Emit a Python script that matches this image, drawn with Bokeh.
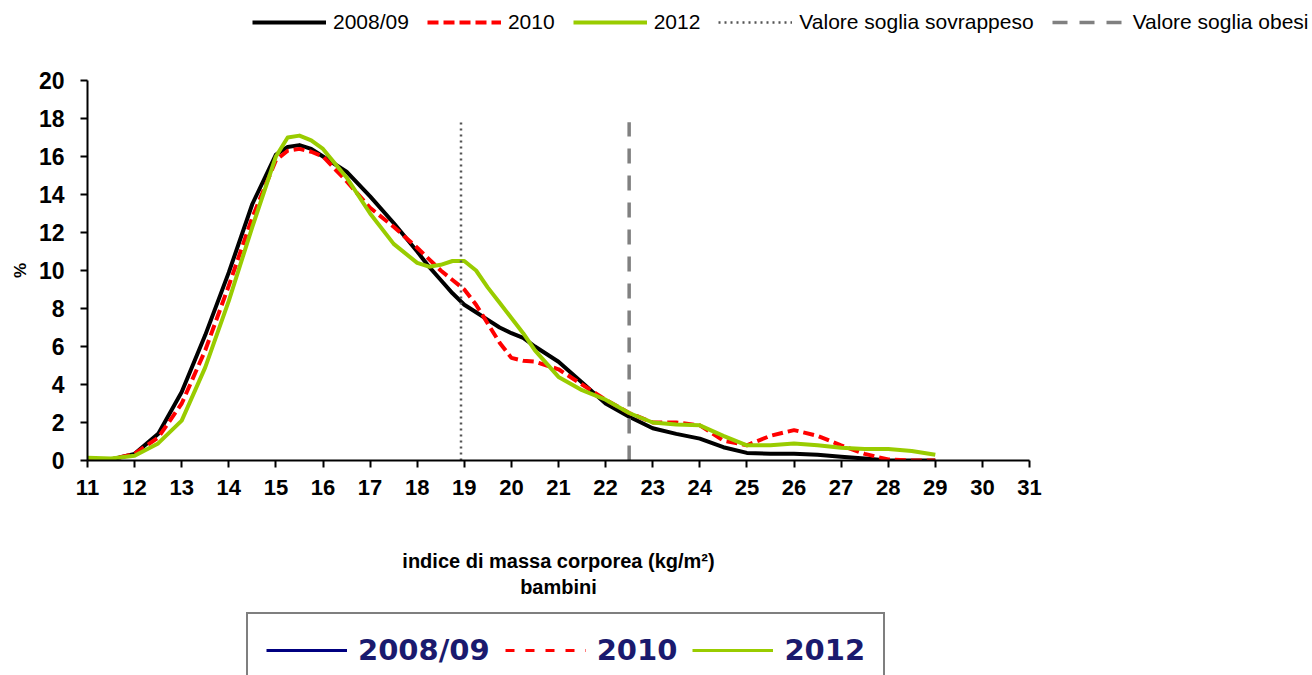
from bokeh.plotting import figure
from bokeh.layouts import column
from bokeh.models import Range1d, Legend, LegendItem, ColumnDataSource, FixedTicker
from bokeh.embed import file_html
from bokeh.resources import INLINE

# ---------------- data ----------------
bmi = [11, 11.5, 12, 12.5, 13, 13.5, 14, 14.5, 15, 15.25, 15.5, 15.75, 16, 16.5, 17, 17.5,
       18, 18.25, 18.5, 18.75, 19, 19.25, 19.5, 19.75, 20, 20.25, 20.5, 21, 21.5, 22, 22.5,
       23, 23.5, 24, 24.5, 25, 25.5, 26, 26.5, 27, 27.5, 28, 28.5, 29]
y2008 = [0.05, 0.05, 0.35, 1.4, 3.6, 6.6, 9.9, 13.5, 16.1, 16.5, 16.6, 16.4, 16.0, 15.2, 13.9, 12.5,
         11.0, 10.2, 9.5, 8.8, 8.2, 7.8, 7.4, 7.0, 6.7, 6.45, 6.0, 5.2, 4.1, 3.0, 2.3,
         1.7, 1.4, 1.15, 0.7, 0.4, 0.35, 0.35, 0.3, 0.2, 0.1, 0.0, 0.0, 0.0]
y2010 = [0.0, 0.05, 0.35, 1.2, 3.0, 5.8, 9.2, 12.8, 15.8, 16.3, 16.4, 16.25, 16.0, 14.7, 13.3, 12.3,
         11.2, 10.6, 10.0, 9.5, 9.0, 8.2, 7.2, 6.2, 5.4, 5.25, 5.2, 4.8, 4.0, 3.2, 2.5,
         2.0, 2.0, 1.85, 1.05, 0.8, 1.3, 1.6, 1.3, 0.8, 0.35, 0.05, 0.0, 0.0]
y2012 = [0.15, 0.1, 0.25, 0.9, 2.1, 4.9, 8.4, 12.3, 16.0, 17.0, 17.1, 16.85, 16.4, 14.9, 13.0, 11.4,
         10.4, 10.2, 10.3, 10.5, 10.5, 10.0, 9.1, 8.3, 7.5, 6.7, 5.8, 4.4, 3.7, 3.2, 2.5,
         2.0, 1.9, 1.85, 1.3, 0.8, 0.8, 0.9, 0.8, 0.67, 0.6, 0.6, 0.5, 0.3]
series_labels = ["2008/09", "2010", "2012"]
thr_labels = ["Valore soglia sovrappeso", "Valore soglia obesi"]
thr_x = [18.93, 22.5]
thr_bottom = [0, 0]
thr_top = [17.8, 17.8]
x_ticks = list(range(11, 32))
y_ticks = list(range(0, 21, 2))
x_title = "indice di massa corporea (kg/m²)\nbambini"
y_title = "%"

W = 1312
NAN = float("nan")


def blank_fig(h):
    f = figure(width=W, height=h, min_border=0, x_range=Range1d(0, 1), y_range=Range1d(0, 1),
               x_axis_location=None, y_axis_location=None,
               output_backend="svg", toolbar_location=None)
    f.outline_line_color = None
    f.xgrid.visible = False
    f.ygrid.visible = False
    try:
        f.frame_align = False
    except Exception:
        pass
    return f


# ---------------- top legend strip ----------------
top = blank_fig(40)
e1 = ColumnDataSource(dict(x=[NAN], y=[NAN]))
l08 = top.line("x", "y", source=e1, line_color="black", line_width=4)
l10 = top.line("x", "y", source=e1, line_color="#ff0000", line_width=4, line_dash="11 5")
l12 = top.line("x", "y", source=e1, line_color="#99cc00", line_width=4)
ldot = top.line("x", "y", source=e1, line_color="#555555", line_width=2.5, line_dash="2 4")
ldash = top.line("x", "y", source=e1, line_color="#808080", line_width=3.5, line_dash="15 12")
leg1 = Legend(items=[
    LegendItem(label=series_labels[0], renderers=[l08]),
    LegendItem(label=series_labels[1], renderers=[l10]),
    LegendItem(label=series_labels[2], renderers=[l12]),
    LegendItem(label=thr_labels[0], renderers=[ldot]),
    LegendItem(label=thr_labels[1], renderers=[ldash]),
], orientation="horizontal", location=(252, 6),
    glyph_width=74, glyph_height=20, label_standoff=7, spacing=18,
    padding=0, margin=0, border_line_color=None, background_fill_alpha=0,
    label_text_font="Liberation Sans", label_text_font_size="21px",
    label_text_color="black", label_height=20)
top.add_layout(leg1, "center")

# ---------------- main chart ----------------
p = figure(frame_width=942, frame_height=380,
           min_border_left=87, min_border_right=W - 87 - 942,
           min_border_top=40, min_border_bottom=150,
           x_range=Range1d(11, 31), y_range=Range1d(0, 20),
           output_backend="svg", toolbar_location=None)
p.outline_line_color = None
p.xgrid.visible = False
p.ygrid.visible = False

src = ColumnDataSource(dict(x=bmi, a=y2008, b=y2010, c=y2012))
p.line("x", "a", source=src, line_color="black", line_width=4, line_join="round")
p.line("x", "b", source=src, line_color="#ff0000", line_width=4, line_dash="11 5")
p.line("x", "c", source=src, line_color="#99cc00", line_width=4, line_join="round")

p.segment(x0=[thr_x[0]], y0=[thr_bottom[0]], x1=[thr_x[0]], y1=[thr_top[0]],
          line_color="#555555", line_width=2.5, line_dash="2 4")
p.segment(x0=[thr_x[1]], y0=[thr_bottom[1]], x1=[thr_x[1]], y1=[thr_top[1]],
          line_color="#808080", line_width=3.5, line_dash="15 12")

for ax in (p.xaxis[0], p.yaxis[0]):
    ax.axis_line_width = 2
    ax.axis_line_color = "black"
    ax.major_tick_line_width = 2
    ax.major_tick_line_color = "black"
    ax.major_tick_out = 7
    ax.major_tick_in = 0
    ax.minor_tick_line_color = None
    ax.major_label_text_font = "Liberation Sans"
    ax.major_label_text_font_style = "bold"
    ax.major_label_text_color = "black"
    ax.axis_label_text_font = "Liberation Sans"
    ax.axis_label_text_font_style = "bold"
    ax.axis_label_text_color = "black"

p.xaxis[0].ticker = FixedTicker(ticks=x_ticks)
p.yaxis[0].ticker = FixedTicker(ticks=y_ticks)
p.xaxis[0].major_label_text_font_size = "22px"
p.xaxis[0].major_label_standoff = 12
p.yaxis[0].major_label_text_font_size = "23px"
p.yaxis[0].major_label_standoff = 16
p.xaxis[0].axis_label = x_title
p.xaxis[0].axis_label_text_font_size = "20px"
p.xaxis[0].axis_label_standoff = 52
p.yaxis[0].axis_label = y_title
p.yaxis[0].axis_label_text_font_size = "17px"
p.yaxis[0].axis_label_standoff = 6

# ---------------- boxed bottom legend strip ----------------
bot = blank_fig(65)
e2 = ColumnDataSource(dict(x=[NAN], y=[NAN]))
n08 = bot.line("x", "y", source=e2, line_color="#000080", line_width=3)
n10 = bot.line("x", "y", source=e2, line_color="#ff0000", line_width=3, line_dash="9 11")
n12 = bot.line("x", "y", source=e2, line_color="#99cc00", line_width=3)
leg2 = Legend(items=[
    LegendItem(label=series_labels[0], renderers=[n08]),
    LegendItem(label=series_labels[1], renderers=[n10]),
    LegendItem(label=series_labels[2], renderers=[n12]),
], orientation="horizontal", location=(246, -13),
    glyph_width=81, glyph_height=36, label_standoff=11, spacing=15,
    padding=18, margin=0, border_line_color="black", border_line_width=2,
    background_fill_color="white", background_fill_alpha=1,
    label_text_font="DejaVu Sans", label_text_font_style="bold",
    label_text_font_size="29px", label_text_color="#1a1a6e", label_height=36)
bot.add_layout(leg2, "center")

p = column(top, p, bot, spacing=0)
open("out.html", "w").write(file_html(p, INLINE))
